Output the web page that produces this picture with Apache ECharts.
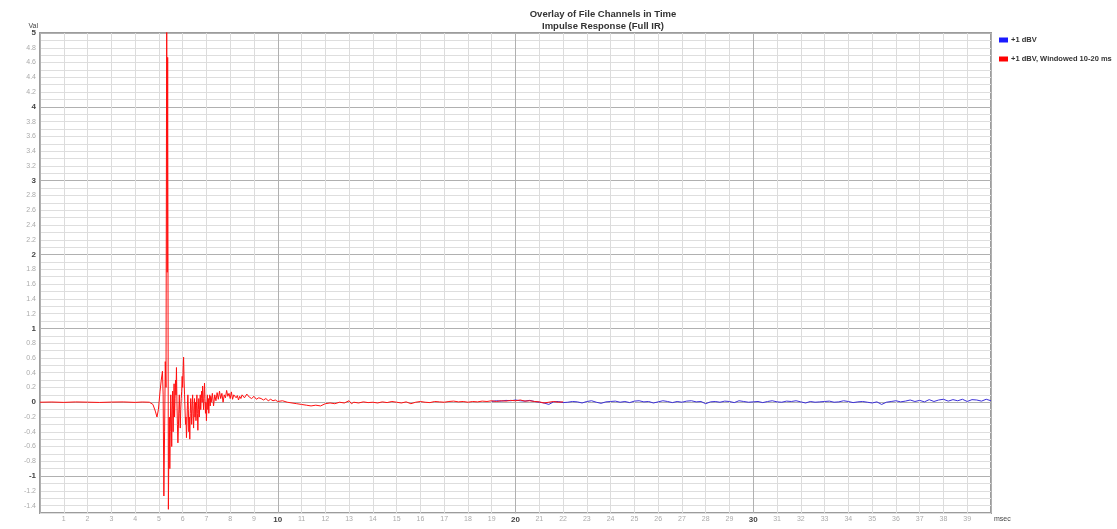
<!DOCTYPE html>
<html>
<head>
<meta charset="utf-8">
<script src="https://cdn.jsdelivr.net/npm/echarts@6/dist/echarts.min.js"></script>
<style>html,body{margin:0;padding:0;background:#fff}#c{width:1117px;height:529px}</style>
</head>
<body>
<div id="c"></div>
<script>
const titleText = 'Overlay of File Channels in Time';
const subtitleText = 'Impulse Response (Full IR)';
const seriesNames = ['+1 dBV', '+1 dBV, Windowed 10-20 ms'];
const xName = 'msec';
const yName = 'Val';

// Windowed IR (red): [msec, value]
const redIR = [
  [0,0],[0.5,0.003],[1,-0.002],[1.5,0.004],[2,0.001],[2.5,-0.003],[3,0.002],[3.5,0.004],[4,-0.002],[4.3,0.003],[4.6,0],
  [4.75,-0.03],[4.85,-0.12],[4.92,-0.2],[4.98,-0.1],[5.05,0.15],[5.1,0.3],[5.15,0.42],[5.18,0.1],[5.21,-1.27],
  [5.24,-0.4],[5.27,0.55],[5.3,0.2],[5.33,5.6],[5.35,1.76],[5.37,4.67],[5.4,-1.45],
  [5.42,-0.6],[5.44,-0.2],[5.46,-0.9],[5.48,-0.4],[5.5,0.1],[5.52,-0.2],[5.54,-0.6],[5.56,-0.1],[5.58,0.15],
  [5.6,-0.4],[5.62,-0.05],[5.64,0.25],[5.66,-0.2],[5.68,0.05],[5.7,0.3],[5.72,0.1],[5.74,0.47],[5.76,0],
  [5.78,-0.3],[5.8,-0.55],[5.82,-0.35],[5.84,-0.1],[5.86,0.1],[5.88,-0.15],[5.9,-0.35],[5.92,-0.1],[5.94,0.05],
  [5.96,0.15],[5.98,0.35],[6,0.2],[6.02,0.45],[6.04,0.61],[6.06,0.3],[6.08,0.1],[6.1,-0.1],[6.12,-0.3],
  [6.14,-0.2],[6.16,-0.48],[6.18,-0.3],[6.2,-0.05],[6.22,0.1],[6.24,-0.1],[6.26,-0.4],[6.28,-0.2],[6.3,-0.5],
  [6.32,-0.15],[6.34,0.05],[6.36,-0.1],[6.38,-0.3],[6.4,-0.05],[6.42,0.1],[6.44,-0.15],[6.46,-0.35],[6.48,-0.1],
  [6.5,0.05],[6.52,-0.2],[6.54,0],[6.56,-0.25],[6.58,-0.05],[6.6,0.1],[6.62,-0.15],[6.64,-0.38],[6.66,-0.1],
  [6.68,0.05],[6.7,-0.2],[6.72,-0.05],[6.74,0.1],[6.76,-0.1],[6.78,0.05],[6.8,0.15],[6.82,0],[6.84,0.22],
  [6.86,0.05],[6.88,-0.1],[6.9,0.1],[6.92,0.26],[6.94,0.05],[6.96,-0.15],[6.98,0],[7,-0.25],[7.02,-0.05],
  [7.04,0.1],[7.06,-0.1],[7.08,0.05],[7.1,-0.15],[7.12,0.02],[7.14,0.1],[7.16,-0.05],[7.18,0.08],
  [7.2,0],[7.25,0.12],[7.3,-0.05],[7.35,0.1],[7.4,0.02],
  [7.45,0.13],[7.5,0.04],[7.55,0.15],[7.6,0.05],[7.65,0.12],[7.7,0],[7.75,0.1],[7.8,0.06],[7.85,0.16],
  [7.9,0.08],[7.95,0.12],[8,0.05],[8.05,0.14],[8.1,0.04],[8.15,0.1],[8.2,0.12],[8.25,0.06],[8.3,0.09],
  [8.35,0.03],[8.4,0.08],[8.45,0.05],[8.5,0.1],[8.6,0.06],[8.7,0.11],[8.8,0.07],[8.9,0.05],
  [9,0.08],[9.1,0.04],[9.2,0.06],[9.3,0.05],[9.4,0.03],[9.5,0.05],[9.6,0.02],[9.7,0.04],[9.8,0.02],[9.9,0.03],
  [10,0.01],[10.2,0.02],[10.4,0],[10.6,-0.01],[10.8,-0.02],[11,-0.03],[11.2,-0.04],[11.4,-0.05],[11.6,-0.04],
  [11.8,-0.05],[12,-0.02],[12.2,-0.01],[12.4,-0.02],[12.6,0],[12.8,-0.01],[13,0.02],[13.1,-0.02],[13.2,0],
  [13.4,-0.01],[13.6,0.005],[13.8,-0.005],[14,0],[14.2,-0.01],[14.4,0.005],[14.6,-0.005],[14.8,0.01],
  [15,0],[15.2,-0.01],[15.4,0.005],[15.6,-0.02],[15.8,0],[16,0.01],[16.2,0],[16.4,-0.005],[16.6,0.01],
  [16.8,0.005],[17,0],[17.2,0.01],[17.4,0.015],[17.6,0.005],[17.8,0.01],[18,0],[18.2,0.01],[18.4,0.005],
  [18.6,0.015],[18.8,0.01],[19,0.02],[19.2,0.01],[19.4,0.02],[19.6,0.015],[19.8,0.025],[20,0.02],
  [20.2,0.03],[20.4,0.015],[20.6,0.02],[20.8,0.01],[21,0.005],[21.2,-0.01],[21.4,0],[21.6,0.01],[21.8,0],[22,0.005]
];

// Full IR (blue), visible tail: [msec, value]
const blueIR = [
  [19,0.01],[19.2,0.02],[19.4,0.015],[19.6,0.025],[19.8,0.02],[20,0.03],[20.2,0.02],[20.4,0.015],[20.6,0.025],[20.8,0.01],
  [21,0],[21.2,-0.01],[21.4,-0.03],[21.6,0.005],[21.8,0.01],[22,-0.005],[22.2,0],[22.4,0.01],[22.6,0.005],[22.8,-0.01],
  [23,0.01],[23.2,0.02],[23.4,0],[23.6,-0.015],[23.8,0.005],[24,0.01],[24.2,0.015],[24.4,0],[24.6,0.01],[24.8,-0.005],
  [25,0.015],[25.2,0.02],[25.4,0.005],[25.6,0.01],[25.8,-0.01],[26,0.005],[26.2,0.02],[26.4,0.01],[26.6,-0.005],[26.8,0.01],
  [27,0],[27.2,0.015],[27.4,0.02],[27.6,0.005],[27.8,0.01],[28,-0.02],[28.2,0.005],[28.4,0.01],[28.6,0],[28.8,0.015],
  [29,0.01],[29.2,-0.005],[29.4,0.02],[29.6,0.01],[29.8,0],[30,0.005],[30.2,0.01],[30.4,-0.005],[30.6,0.01],[30.8,0.02],
  [31,0.005],[31.2,0],[31.4,0.015],[31.6,0.01],[31.8,0.02],[32,0.005],[32.2,-0.01],[32.4,0.01],[32.6,0],[32.8,0.005],
  [33,0.01],[33.2,0.015],[33.4,0],[33.6,0.005],[33.8,0.02],[34,0.01],[34.2,-0.005],[34.4,0.005],[34.6,0.01],[34.8,0],
  [35,-0.01],[35.2,0.005],[35.4,-0.03],[35.6,0],[35.8,0.01],[36,0.02],[36.2,0.005],[36.4,0.015],[36.6,0.03],[36.8,0.01],
  [37,0.025],[37.2,0.005],[37.4,0.035],[37.6,0.01],[37.8,0.03],[38,0.04],[38.2,0.015],[38.4,0.035],[38.6,0.02],[38.8,0.04],
  [39,0.01],[39.2,0.035],[39.4,0.03],[39.6,0.015],[39.8,0.04],[40,0.02]
];

const FONT = '"Liberation Sans", Arial, sans-serif';
const chart = echarts.init(document.getElementById('c'), null, {renderer: 'canvas'});

const yGridColors = [];
for (let i = 0; i < 10; i++) yGridColors.push(i === 5 ? '#b0b0b0' : '#dedede');
const xGridColors = [];
for (let i = 0; i < 10; i++) xGridColors.push(i === 0 ? '#b0b0b0' : '#dcdcdc');

chart.setOption({
  animation: false,
  backgroundColor: '#ffffff',
  textStyle: {fontFamily: FONT},
  title: {
    text: titleText,
    subtext: subtitleText,
    left: 598, textAlign: 'center', top: 4, itemGap: 2,
    textStyle: {fontSize: 9.5, fontWeight: 'bold', color: '#333', fontFamily: FONT},
    subtextStyle: {fontSize: 9.5, fontWeight: 'bold', color: '#333', fontFamily: FONT}
  },
  legend: {
    orient: 'vertical', left: 994, top: 31, itemWidth: 9, itemHeight: 5, itemGap: 11,
    icon: 'rect',
    data: seriesNames,
    textStyle: {fontSize: 7.5, fontWeight: 'bold', color: '#333', fontFamily: FONT, padding: [0,0,0,-2]}
  },
  grid: {left: 40, right: 126, top: 33, bottom: 16, show: true, borderColor: '#9c9c9c', borderWidth: 2, containLabel: false},
  xAxis: {
    type: 'value', min: 0, max: 40, interval: 1,
    name: xName, nameLocation: 'end', nameGap: 3,
    nameTextStyle: {fontSize: 7, color: '#444', verticalAlign: 'top', padding: [3,0,0,0], fontFamily: FONT},
    axisLine: {show: false, onZero: false}, axisTick: {show: false},
    splitLine: {show: true, lineStyle: {color: xGridColors, width: 1}},
    axisLabel: {
      margin: 3, fontSize: 7, color: '#aaa',
      formatter: function (v) {
        if (v === 0 || v === 40) return '';
        if (v % 10 === 0) return '{b|' + v + '}';
        return '{n|' + v + '}';
      },
      rich: {b: {fontSize: 8, fontWeight: 'bold', color: '#444'}, n: {fontSize: 7, color: '#aaa'}}
    }
  },
  yAxis: {
    type: 'value', min: -1.5, max: 5, interval: 0.1,
    name: yName, nameLocation: 'end', nameGap: 3,
    nameTextStyle: {fontSize: 7, color: '#444', align: 'right', padding: [0,2,0,0], fontFamily: FONT},
    axisLine: {show: false, onZero: false}, axisTick: {show: false},
    splitLine: {show: true, lineStyle: {color: yGridColors, width: 1}},
    axisLabel: {
      margin: 4, fontSize: 7, color: '#aaa',
      formatter: function (v) {
        const r = Math.round(v * 10);
        if (r % 2 !== 0) return '';
        if (r % 10 === 0) return '{b|' + (r / 10) + '}';
        return '{n|' + (r / 10).toFixed(1) + '}';
      },
      rich: {b: {fontSize: 8, fontWeight: 'bold', color: '#444'}, n: {fontSize: 7, color: '#aaa'}}
    }
  },
  series: [
    {name: seriesNames[0], type: 'line', data: blueIR, showSymbol: false, symbol: 'none',
     color: '#1a1aff', lineStyle: {width: 1, color: '#3b2fd8'}, z: 2, clip: true},
    {name: seriesNames[1], type: 'line', data: redIR, showSymbol: false, symbol: 'none',
     color: '#ff0000', lineStyle: {width: 1, color: '#ff1010'}, z: 3, clip: true}
  ]
});
</script>
</body>
</html>
